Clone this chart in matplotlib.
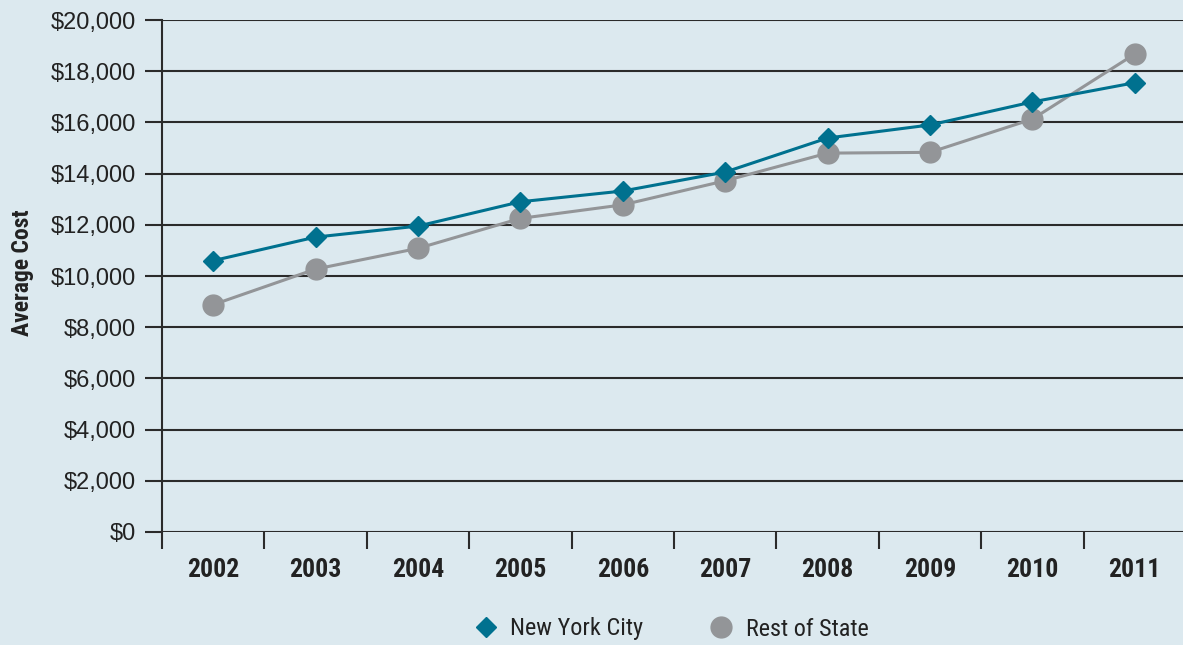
import numpy as np
import matplotlib.pyplot as plt
from matplotlib.lines import Line2D
from matplotlib.ticker import FuncFormatter

# data
years = ['2002', '2003', '2004', '2005', '2006', '2007', '2008', '2009', '2010', '2011']
nyc = [10600, 11520, 11950, 12900, 13320, 14060, 15390, 15900, 16800, 17550]
rest_of_state = [8880, 10270, 11080, 12250, 12780, 13720, 14800, 14830, 16130, 18670]
y_ticks = list(range(0, 20001, 2000))

bg = '#dce9ef'
teal = '#00718f'
gray = '#939598'
dark = '#2b2b2b'
narrow = ['Roboto Condensed', 'Liberation Sans', 'DejaVu Sans']

fig = plt.figure(figsize=(11.83, 6.45), dpi=100, facecolor=bg)
ax = fig.add_axes([162 / 1183, 1 - 532 / 645, 1024 / 1183, 512 / 645])
ax.set_facecolor(bg)

x = np.arange(len(years))
ax.plot(x, rest_of_state, color=gray, lw=2.2, marker='o', ms=15, mec=gray, mfc=gray, zorder=3)
ax.plot(x, nyc, color=teal, lw=2.2, marker='D', ms=10.5, mec=teal, mfc=teal, zorder=4)

ax.set_xlim(-0.5, len(years) - 0.5)
ax.set_ylim(0, 20000)

for s in ['top', 'right', 'bottom']:
    ax.spines[s].set_visible(False)
ax.spines['left'].set_color(dark)
ax.spines['left'].set_linewidth(1.5)

ax.set_yticks(y_ticks)
ax.yaxis.set_major_formatter(FuncFormatter(lambda v, p: f'${int(v):,}'))
for v in y_ticks:
    ax.axhline(v, color=dark, lw=1.5, zorder=1)
ax.tick_params(axis='y', length=12, width=1.5, color=dark, pad=6.5)
for lab in ax.get_yticklabels():
    lab.set_fontfamily(['Liberation Sans', 'DejaVu Sans'])
    lab.set_fontsize(17)
    lab.set_color('#222222')

ax.set_xticks(x)
ax.set_xticklabels(years)
ax.set_xticks(np.arange(-0.5, len(years), 1.0), minor=True)
ax.tick_params(axis='x', which='major', length=0, pad=19)
ax.tick_params(axis='x', which='minor', length=12, width=1.5, color=dark, direction='out')
for lab in ax.get_xticklabels():
    lab.set_fontfamily(narrow)
    lab.set_fontweight('bold')
    lab.set_fontsize(18.5)
    lab.set_color('#222222')

fig.text(23 / 1183, 1 - 273 / 645, 'Average Cost', rotation=90, ha='center', va='center',
         fontsize=17, fontweight='bold', family=narrow, color='#222222')

handles = [
    Line2D([], [], ls='none', marker='D', ms=10.5, color=teal, label='New York City'),
    Line2D([], [], ls='none', marker='o', ms=15, color=gray, label='Rest of State'),
]
leg = fig.legend(handles=handles, loc='center', bbox_to_anchor=(670 / 1183, 1 - 629 / 645),
                 ncol=2, frameon=False, handlelength=1.2, handletextpad=0.4, columnspacing=2.6,
                 prop={'family': narrow, 'size': 17.5})
for t in leg.get_texts():
    t.set_color('#222222')

fig.savefig('out.png', dpi=100, facecolor=bg)
